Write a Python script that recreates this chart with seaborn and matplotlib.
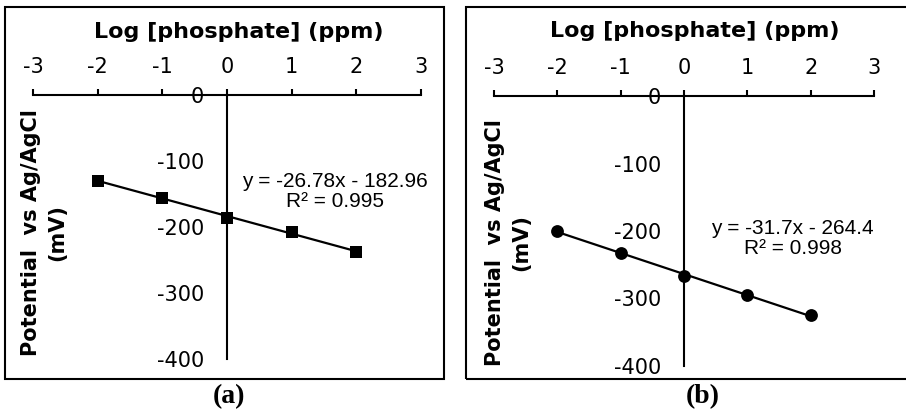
import numpy as np
import pandas as pd
import seaborn as sns
import matplotlib.pyplot as plt
from matplotlib.patches import Rectangle

log_conc = [-2, -1, 0, 1, 2]
potential_a = [-130, -156, -186, -207, -238]
potential_b = [-200, -233, -266, -295, -325]
x_ticks = [-3, -2, -1, 0, 1, 2, 3]
y_ticks = [-400, -300, -200, -100, 0]
eq_a = 'y = -26.78x - 182.96\nR² = 0.995'
eq_b = 'y = -31.7x - 264.4\nR² = 0.998'
x_title = 'Log [phosphate] (ppm)'
y_title = 'Potential  vs Ag/AgCl\n(mV)'

sns.set_style('white')
plt.rcParams['font.family'] = ['DejaVu Sans']
plt.rcParams['axes.unicode_minus'] = False
plt.rcParams['text.color'] = 'black'

W, H = 906, 413
fig = plt.figure(figsize=(W / 100, H / 100), dpi=100)


def px(x0, y0, x1, y1):
    # pixel box (top-down) -> figure fraction rect
    return [x0 / W, 1 - y1 / H, (x1 - x0) / W, (y1 - y0) / H]


panels = [
    dict(rect=px(33, 95, 421, 359), y=potential_a, marker='s', s=64,
         eq=eq_a, eq_pos=(0.778, 0.634), title_x=0.531, box=(5, 7, 444, 379),
         ylab=(44, 233), tag='(a)', tag_x=229),
    dict(rect=px(494, 96, 874, 366), y=potential_b, marker='o', s=85,
         eq=eq_b, eq_pos=(0.786, 0.472), title_x=0.529, box=(466, 7, 912, 379),
         ylab=(508, 243), tag='(b)', tag_x=703),
]

for p in panels:
    ax = fig.add_axes(p['rect'])
    df = pd.DataFrame({'x': log_conc, 'y': p['y']})
    sns.regplot(data=df, x='x', y='y', ax=ax, ci=None, color='black',
                marker=p['marker'],
                scatter_kws={'s': p['s'], 'linewidths': 0, 'alpha': 1, 'zorder': 4},
                line_kws={'lw': 1.6, 'zorder': 3})
    ax.set_xlim(-3, 3)
    ax.set_ylim(-400, 0)
    ax.set_xlabel('')
    ax.set_ylabel('')
    ax.set_facecolor('none')

    ax.spines['right'].set_visible(False)
    ax.spines['bottom'].set_visible(False)
    ax.spines['left'].set_position(('data', 0))
    for s in ['top', 'left']:
        ax.spines[s].set_linewidth(1.5)
        ax.spines[s].set_color('black')

    ax.xaxis.tick_top()
    ax.set_xticks(x_ticks)
    ax.set_xticklabels([str(t) for t in x_ticks])
    ax.set_yticks(y_ticks)
    ax.set_yticklabels([str(t) for t in y_ticks])
    ax.tick_params(axis='x', direction='out', length=4, width=1.5, pad=9,
                   labelsize=15, colors='black')
    ax.tick_params(axis='y', direction='out', length=4.5, width=1.5, pad=12,
                   labelsize=15, colors='black')

    ax.text(p['title_x'], 1.24, x_title, transform=ax.transAxes,
            ha='center', va='center', fontsize=16, fontweight='bold')
    ax.text(p['eq_pos'][0], p['eq_pos'][1], p['eq'], transform=ax.transAxes,
            ha='center', va='center', multialignment='center',
            fontsize=15, linespacing=1.05, family='Liberation Sans')

    fig.text(p['ylab'][0] / W, 1 - p['ylab'][1] / H, y_title, rotation=90,
             ha='center', va='center', multialignment='center',
             fontsize=15, fontweight='bold', linespacing=1.4)

    bx0, by0, bx1, by1 = p['box']
    fig.patches.append(Rectangle((bx0 / W, 1 - by1 / H), (bx1 - bx0) / W,
                                 (by1 - by0) / H, transform=fig.transFigure,
                                 fill=False, edgecolor='black', lw=1.5))
    fig.text(p['tag_x'] / W, 1 - 397 / H, p['tag'], ha='center', va='center',
             fontsize=20, fontweight='bold', family='Liberation Serif')

fig.savefig('out.png', dpi=100)
